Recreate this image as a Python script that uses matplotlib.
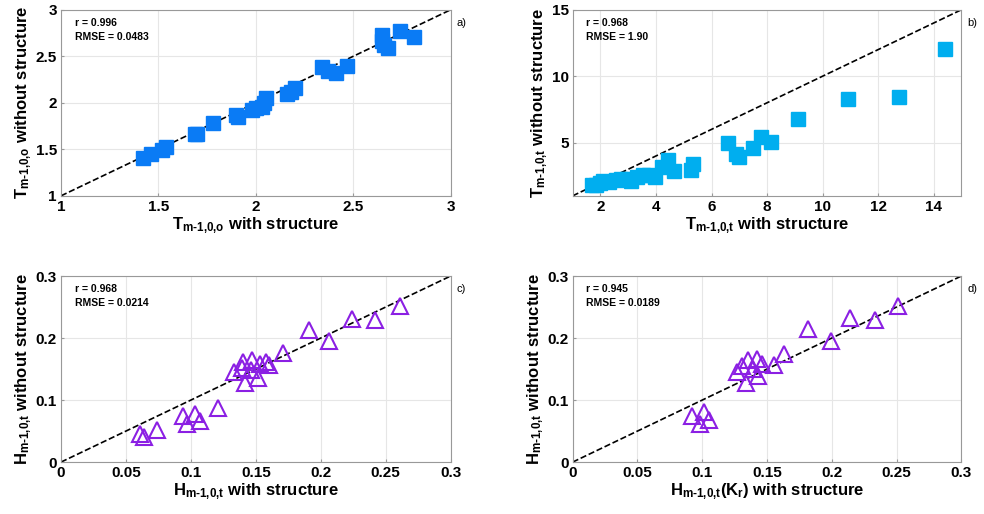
import matplotlib
matplotlib.use("Agg")
import matplotlib.pyplot as plt

plt.rcParams['font.family'] = 'Liberation Sans'
plt.rcParams['mathtext.fontset'] = 'custom'
plt.rcParams['mathtext.rm'] = 'Liberation Sans:bold'
plt.rcParams['mathtext.it'] = 'Liberation Sans:bold'
plt.rcParams['mathtext.bf'] = 'Liberation Sans:bold'

# panel a) Tm-1,0,o
a_x = [1.42, 1.46, 1.52, 1.54, 1.69, 1.70, 1.78, 1.90, 1.91, 1.98, 2.00, 2.03, 2.04, 2.05,
       2.16, 2.18, 2.20, 2.34, 2.37, 2.41, 2.47, 2.65, 2.65, 2.66, 2.68, 2.74, 2.81]
a_y = [1.41, 1.45, 1.49, 1.53, 1.67, 1.66, 1.78, 1.87, 1.85, 1.92, 1.94, 1.96, 2.00, 2.05,
       2.09, 2.12, 2.16, 2.39, 2.34, 2.32, 2.40, 2.73, 2.66, 2.62, 2.59, 2.77, 2.71]

# panel b) Tm-1,0,t
b_x = [1.7, 1.85, 2.0, 2.1, 2.3, 2.55, 2.75, 2.95, 3.1, 3.3, 3.55, 3.75, 3.95, 4.2,
       4.45, 4.65, 5.25, 5.35, 6.6, 6.9, 7.0, 7.5, 7.8, 8.15, 9.1, 10.9, 12.75, 14.4]
b_y = [1.8, 1.85, 1.95, 2.1, 2.05, 2.2, 2.3, 2.25, 2.1, 2.45, 2.55, 2.6, 2.4, 3.2,
       3.7, 2.85, 2.95, 3.4, 4.95, 4.15, 3.95, 4.6, 5.4, 5.05, 6.8, 8.3, 8.4, 12.05]

# panel c) Hm-1,0,t
c_x = [0.061, 0.064, 0.074, 0.094, 0.097, 0.103, 0.107, 0.121, 0.133, 0.139, 0.140, 0.142,
       0.146, 0.147, 0.152, 0.153, 0.158, 0.160, 0.171, 0.191, 0.206, 0.224, 0.242, 0.261]
c_y = [0.046, 0.041, 0.052, 0.075, 0.062, 0.077, 0.066, 0.087, 0.145, 0.152, 0.162, 0.127,
       0.149, 0.165, 0.135, 0.158, 0.162, 0.156, 0.176, 0.213, 0.195, 0.231, 0.229, 0.252]

# panel d) Hm-1,0,t(Kr)
d_x = [0.092, 0.098, 0.101, 0.105, 0.127, 0.131, 0.134, 0.135, 0.139, 0.142, 0.143, 0.146,
       0.155, 0.163, 0.182, 0.199, 0.214, 0.233, 0.251]
d_y = [0.075, 0.062, 0.080, 0.068, 0.145, 0.155, 0.127, 0.165, 0.150, 0.166, 0.138, 0.158,
       0.157, 0.175, 0.214, 0.196, 0.232, 0.229, 0.252]

stats = ["r = 0.996\nRMSE = 0.0483", "r = 0.968\nRMSE = 1.90",
         "r = 0.968\nRMSE = 0.0214", "r = 0.945\nRMSE = 0.0189"]
panel_tags = ["a)", "b)", "c)", "d)"]

xlabels = [r"$\mathrm{T_{\text{m-1,0,o}}}$ with structure",
           r"$\mathrm{T_{\text{m-1,0,t}}}$ with structure",
           r"$\mathrm{H_{\text{m-1,0,t}}}$ with structure",
           r"$\mathrm{H_{\text{m-1,0,t}}(K_r)}$ with structure"]
ylabels = [r"$\mathrm{T_{\text{m-1,0,o}}}$ without structure",
           r"$\mathrm{T_{\text{m-1,0,t}}}$ without structure",
           r"$\mathrm{H_{\text{m-1,0,t}}}$ without structure",
           r"$\mathrm{H_{\text{m-1,0,t}}}$ without structure"]

lims = [(1, 3), (1, 15), (0, 0.3), (0, 0.3)]
xticks = [[1, 1.5, 2, 2.5, 3], [2, 4, 6, 8, 10, 12, 14],
          [0, 0.05, 0.1, 0.15, 0.2, 0.25, 0.3], [0, 0.05, 0.1, 0.15, 0.2, 0.25, 0.3]]
yticks = [[1, 1.5, 2, 2.5, 3], [5, 10, 15], [0, 0.1, 0.2, 0.3], [0, 0.1, 0.2, 0.3]]

fig = plt.figure(figsize=(9.84, 5.14), dpi=100)
boxes = [[0.062, 0.619, 0.396, 0.362], [0.582, 0.619, 0.395, 0.362],
         [0.062, 0.101, 0.396, 0.362], [0.582, 0.101, 0.395, 0.362]]
data = [(a_x, a_y), (b_x, b_y), (c_x, c_y), (d_x, d_y)]

for i in range(4):
    ax = fig.add_axes(boxes[i])
    lo, hi = lims[i]
    ax.plot([lo, hi], [lo, hi], 'k--', lw=1.2, zorder=2)
    x, y = data[i]
    if i == 0:
        ax.plot(x, y, 's', color='#0A7BF5', ms=9.5, mec='#0A7BF5', zorder=3)
    elif i == 1:
        ax.plot(x, y, 's', color='#00AEEF', ms=9.5, mec='#00AEEF', zorder=3)
    else:
        ax.plot(x, y, '^', mfc='none', mec='#8B1FE3', ms=11, mew=1.5, zorder=3)
    ax.set_xlim(lo, hi)
    ax.set_ylim(lo, hi)
    ax.set_xticks(xticks[i])
    ax.set_xticklabels([f"{t:g}" for t in xticks[i]])
    ax.set_yticks(yticks[i])
    ax.set_yticklabels([f"{t:g}" for t in yticks[i]])
    ax.grid(True, color='#e6e6e6', lw=0.8)
    ax.set_axisbelow(True)
    for s in ax.spines.values():
        s.set_color('#999999')
        s.set_linewidth(0.8)
    ax.tick_params(direction='in', length=2, color='#999999', labelsize=11, pad=3)
    for lab in ax.get_xticklabels() + ax.get_yticklabels():
        lab.set_fontweight('bold')
    ax.set_xlabel(xlabels[i], fontsize=12, fontweight='bold', labelpad=1)
    ax.set_ylabel(ylabels[i], fontsize=12, fontweight='bold', labelpad=1)
    ax.text(0.035, 0.955, stats[i], transform=ax.transAxes, va='top', ha='left',
            fontsize=7.5, fontweight='bold', linespacing=1.5)
    ax.text(1.015, 0.93, panel_tags[i], transform=ax.transAxes, va='center', ha='left',
            fontsize=8)

fig.savefig("out.png", dpi=100)
